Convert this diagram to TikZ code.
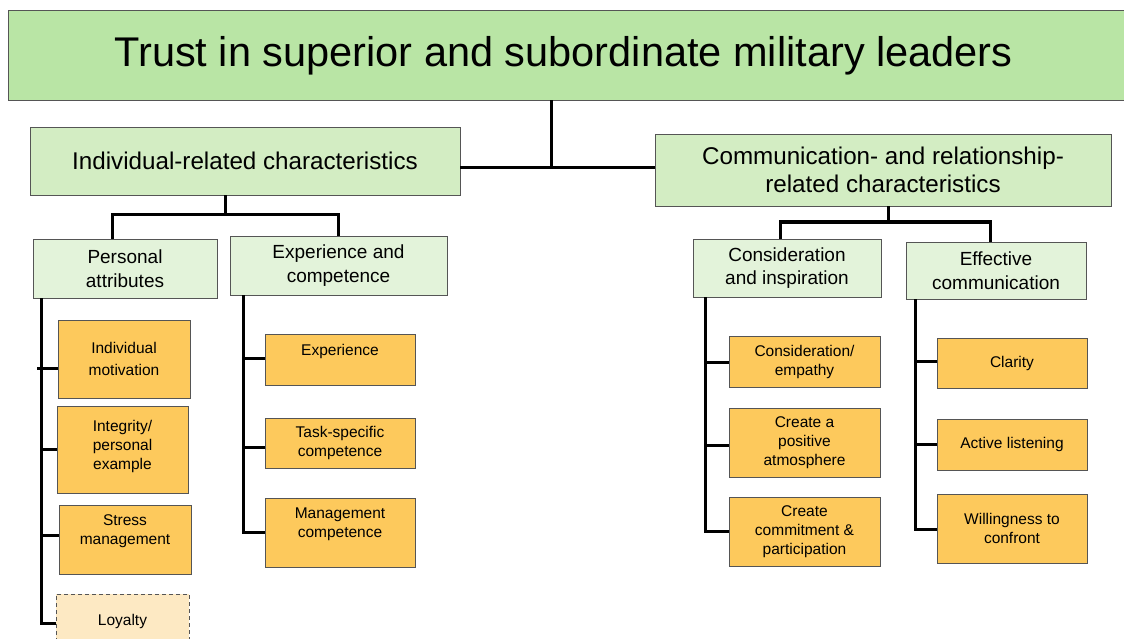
\documentclass[tikz,border=0pt]{standalone}
\usepackage{fontspec}
\setmainfont{Liberation Sans}
\definecolor{topgreen}{HTML}{B9E5A5}
\definecolor{midgreen}{HTML}{D3EDC3}
\definecolor{subgreen}{HTML}{E3F3DA}
\definecolor{leaforange}{HTML}{FDC95C}
\definecolor{lightorange}{HTML}{FDE9C3}
\definecolor{bordergray}{HTML}{555555}
\tikzset{
  box/.style={draw=bordergray, line width=0.9pt, inner sep=0pt, align=center, text=black},
  topbox/.style={box, fill=topgreen, font=\fontsize{41.5}{50}\selectfont},
  midbox/.style={box, fill=midgreen, font=\fontsize{24.2}{28}\selectfont},
  subbox/.style={box, fill=subgreen, font=\fontsize{19}{23.5}\selectfont},
  leaf/.style={box, fill=leaforange, font=\fontsize{15.5}{19}\selectfont},
  leafdash/.style={box, dash pattern=on 4pt off 3pt, fill=lightorange, font=\fontsize{15.5}{19}\selectfont},
  raised/.style={text depth=#1},
  conn/.style={draw=black, line width=3pt, line join=miter}
}
\newcommand\bx[7]{\node[#6, minimum width={#4-#2}, minimum height={#5-#3}] (#1) at ({(#2+#4)/2},{(#3+#5)/2}) {#7};}
\begin{document}
\begin{tikzpicture}[x=1pt,y=-1pt]
\useasboundingbox (0,0) rectangle (1124,639);
\clip (0,0) rectangle (1124,639);
\fill[white] (0,0) rectangle (1124,639);
% level 0
\bx{top}{8}{10}{1130}{100}{topbox, text height=31pt, text depth=7pt}{\hspace*{-11pt}Trust in superior and subordinate military leaders}
% level 1
\bx{ind}{30}{127}{460}{195}{midbox}{Individual-related characteristics}
\bx{com}{655}{134}{1111}{206}{midbox}{Communication- and relationship-\\related characteristics}
% level 2
\bx{pa}{33}{239}{217}{298}{subbox}{Personal\\attributes}
\bx{ec}{230}{236}{447}{295}{subbox}{Experience and\\competence}
\bx{ci}{693}{239}{881}{297}{subbox}{Consideration\\and inspiration}
\bx{eff}{906}{242}{1086}{299}{subbox}{Effective\\communication}
% leaves
\bx{im}{58}{320}{190}{398}{leaf}{Individual\\[3pt]motivation}
\bx{ig}{57}{406}{188}{493}{leaf, raised=10pt}{Integrity/\\personal\\example}
\bx{sm}{59}{505}{191}{574}{leaf, raised=19pt}{Stress\\management}
\bx{lo}{56}{594}{189}{648}{leafdash}{Loyalty}
\bx{ex}{265}{334}{415}{385}{leaf, raised=20pt}{Experience}
\bx{ts}{265}{418}{415}{468}{leaf}{Task-specific\\competence}
\bx{mc}{265}{498}{415}{567}{leaf, raised=19pt}{Management\\competence}
\bx{ce}{729}{336}{880}{387}{leaf}{Consideration/\\empathy}
\bx{cp}{729}{408}{880}{477}{leaf}{Create a\\positive\\atmosphere}
\bx{cc}{729}{497}{880}{566}{leaf}{Create\\commitment \&\\participation}
\bx{cl}{937}{338}{1087}{388}{leaf}{Clarity}
\bx{al}{937}{419}{1087}{470}{leaf}{Active listening}
\bx{wc}{937}{494}{1087}{563}{leaf}{Willingness to\\confront}
% connectors
\draw[conn] (top.south -| 551,0) -- (551,168);
\draw[conn] (ind.east |- 0,168) -- (com.west |- 0,168);
\draw[conn] (ind.south -| 225,0) -- (225,215);
\draw[conn] (pa.north -| 112,0) -- (112,215) -- (338,215) -- (ec.north -| 338,0);
\draw[conn] (pa.south -| 41,0) -- (41,623) -- (lo.west |- 0,623);
\draw[conn] (37,368) -- (im.west |- 0,368);
\draw[conn] (41,449) -- (ig.west |- 0,449);
\draw[conn] (41,535) -- (sm.west |- 0,535);
\draw[conn] (ec.south -| 243,0) -- (243,532) -- (mc.west |- 0,532);
\draw[conn] (243,358) -- (ex.west |- 0,358);
\draw[conn] (243,447) -- (ts.west |- 0,447);
\draw[conn] (com.south -| 888,0) -- (888,222);
\draw[conn] (ci.north -| 780,0) -- (780,222) -- (990,222) -- (eff.north -| 990,0);
\draw[conn] (ci.south -| 705,0) -- (705,531) -- (cc.west |- 0,531);
\draw[conn] (705,362) -- (ce.west |- 0,362);
\draw[conn] (705,445) -- (cp.west |- 0,445);
\draw[conn] (eff.south -| 915,0) -- (915,529) -- (wc.west |- 0,529);
\draw[conn] (915,361) -- (cl.west |- 0,361);
\draw[conn] (915,444) -- (al.west |- 0,444);
\end{tikzpicture}
\end{document}
